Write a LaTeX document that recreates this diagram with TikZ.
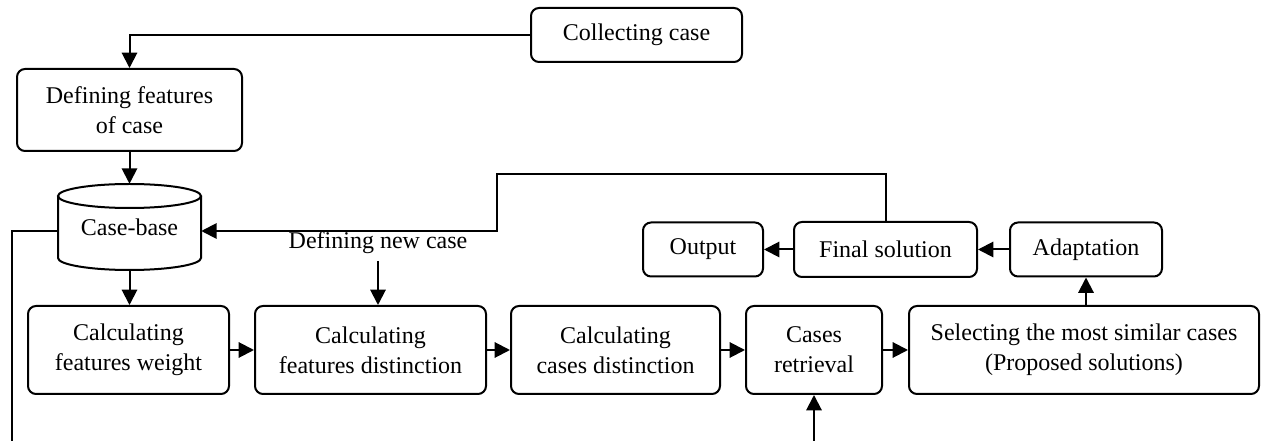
\documentclass[tikz,border=0pt]{standalone}
\usepackage{fontspec}
\setmainfont{Liberation Serif}
\usetikzlibrary{arrows.meta}
\begin{document}
\begin{tikzpicture}[x=0.75pt,y=-0.75pt,
  every node/.style={font=\fontsize{18}{22.5}\selectfont, inner sep=0pt, align=center},
  box/.style={draw, line width=1.5pt, rounded corners=6pt},
  arr/.style={line width=1.5pt, -{Triangle[length=11.5pt,width=11.5pt]}},
  ln/.style={line width=1.5pt}]
\useasboundingbox (0,0) rectangle (1261,441);
% nodes
\node[box, minimum width=158.25pt, minimum height=40.5pt] (collect) at (636.5,35) {Collecting case};
\node[box, minimum width=168.75pt, minimum height=61.5pt] (deffeat) at (129.5,110) {Defining features\\of case};
\node[minimum width=107.25pt, minimum height=64.5pt] (cb) at (129.5,227) {Case-base};
\draw[ln] (129.5,196) ellipse [x radius=53.625pt, y radius=9pt];
\draw[ln] (58,196) -- (58,258) arc[start angle=180, end angle=360, x radius=53.625pt, y radius=9pt] -- (201,196);
\node[box, minimum width=150.75pt, minimum height=66pt] (calcw) at (128.5,350) {Calculating\\features weight};
\node[box, minimum width=173.25pt, minimum height=66pt] (calcfd) at (370.5,350) {Calculating\\features distinction};
\node[box, minimum width=156.75pt, minimum height=66pt] (calccd) at (615.5,350) {Calculating\\cases distinction};
\node[box, minimum width=102pt, minimum height=66pt] (retr) at (814,350) {Cases\\retrieval};
\node[box, minimum width=262.5pt, minimum height=66pt] (sel) at (1084,350) {Selecting the most similar cases\\(Proposed solutions)};
\node[box, minimum width=90pt, minimum height=40.5pt] (output) at (703,249.5) {Output};
\node[box, minimum width=137.25pt, minimum height=41.25pt] (final) at (885.5,249.5) {Final solution};
\node[box, minimum width=114pt, minimum height=40.5pt] (adapt) at (1086,249.5) {Adaptation};
\node (newc) at (378,243) {Defining new case};
% coordinates
\coordinate (fb) at (497,174);
\coordinate (lend) at (12,441);
\coordinate (rin) at (814,441);
\coordinate (cbe) at ([yshift=-3pt]cb.east);
\coordinate (cbw) at ([yshift=-3pt]cb.west);
% connectors
\draw[arr] (collect.west) -| (deffeat.north);
\draw[arr] (deffeat.south) -- (cb.north);
\draw[arr] (cb.south) -- (cb.south |- calcw.north);
\draw[ln] (cbw) -| (lend);
\draw[arr] (final.north) |- (fb) |- (cbe);
\draw[arr] ([yshift=-5pt]newc.south) -- (newc.south |- calcfd.north);
\draw[arr] (calcw.east) -- (calcfd.west);
\draw[arr] (calcfd.east) -- (calccd.west);
\draw[arr] (calccd.east) -- (retr.west);
\draw[arr] (retr.east) -- (sel.west);
\draw[arr] (rin) -- (retr.south);
\draw[arr] (adapt.south |- sel.north) -- (adapt.south);
\draw[arr] (adapt.west) -- (final.east);
\draw[arr] (final.west) -- (output.east);
\end{tikzpicture}
\end{document}
